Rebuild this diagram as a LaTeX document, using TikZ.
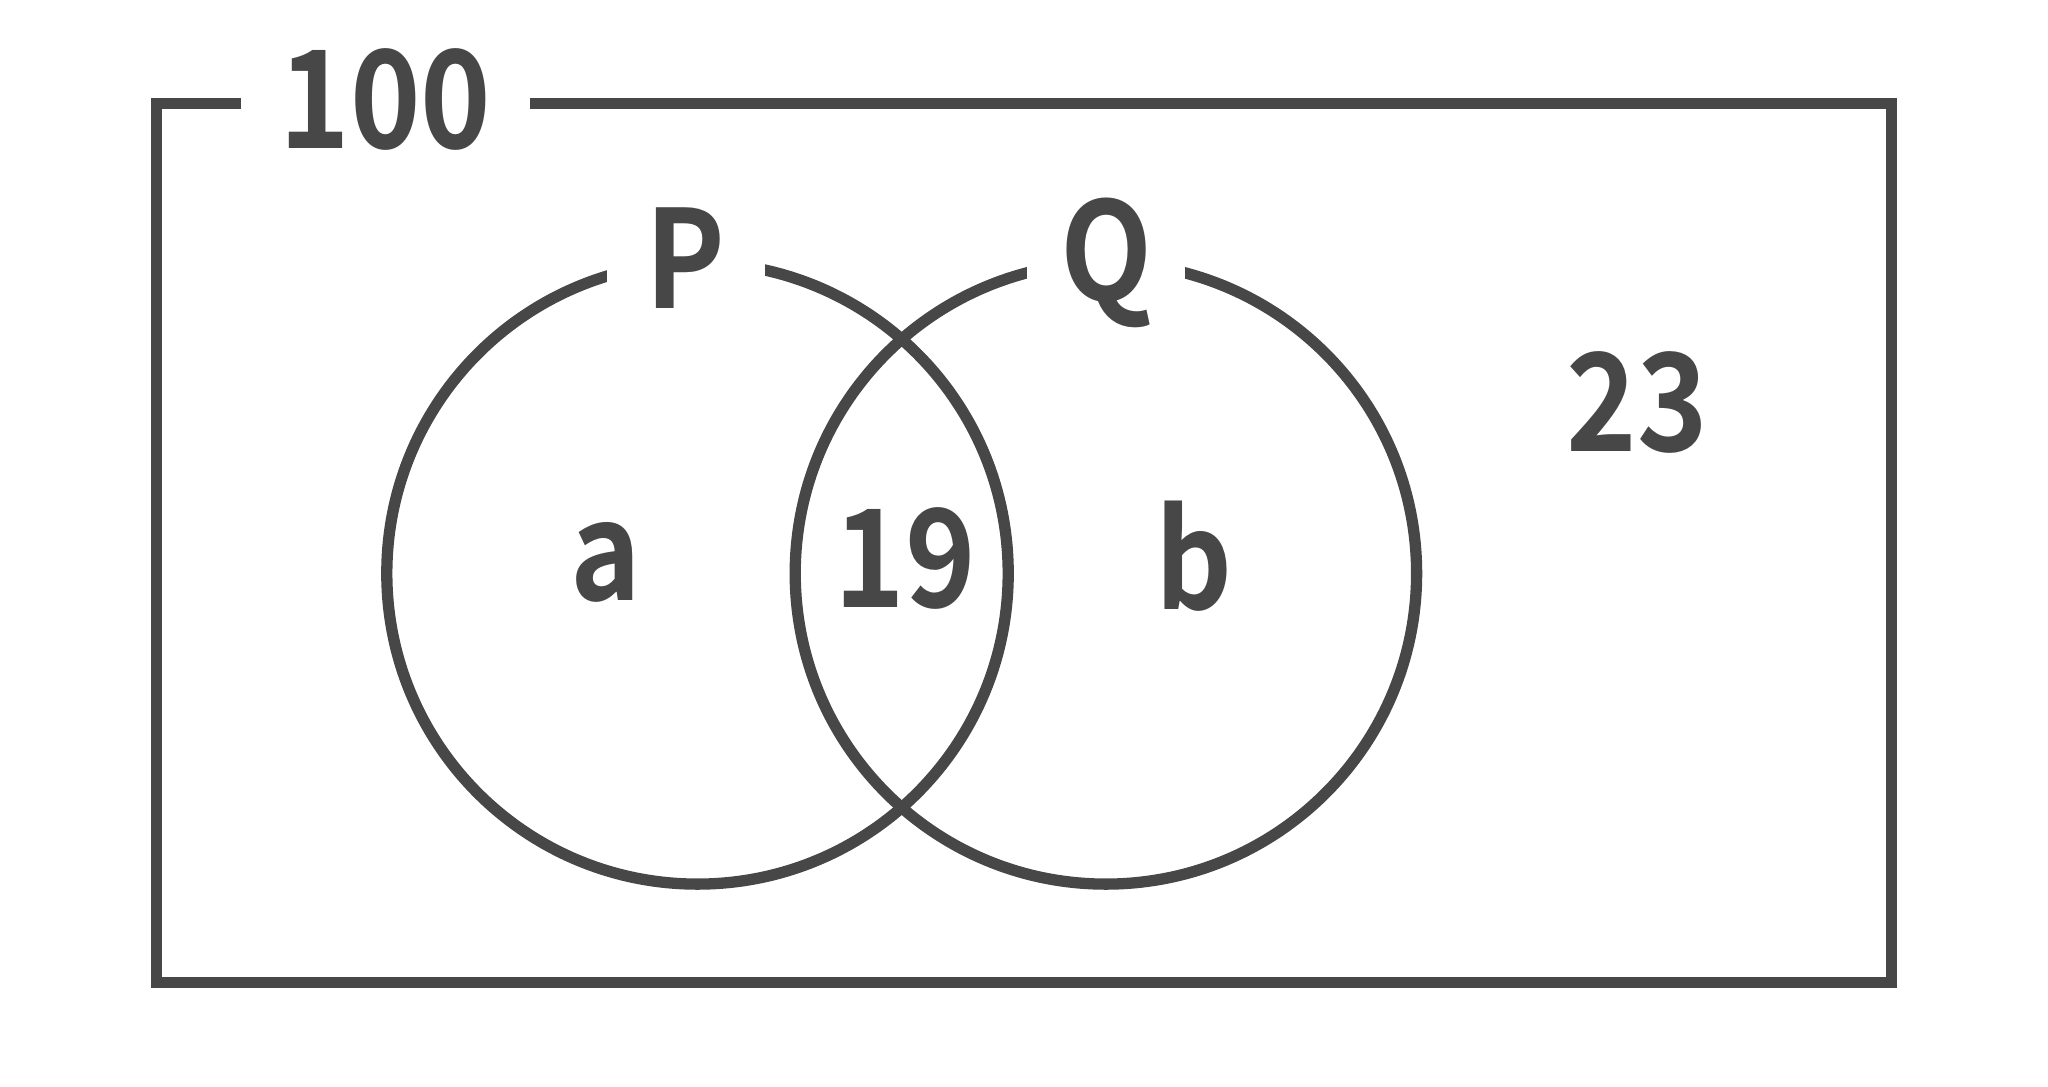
\documentclass[tikz,border=0pt]{standalone}
\usepackage{fontspec}
\newfontfamily\lab{Noto Sans CJK JP Bold}[FakeStretch=0.88]
\definecolor{ink}{RGB}{70,71,70}
\begin{document}
\begin{tikzpicture}[x=0.5pt,y=-0.5pt,
  line/.style={draw=ink, line width=5.65pt},
  lbl/.style={font=\lab\fontsize{68}{70}\selectfont, text=ink, inner sep=0pt, anchor=base},
  cut/.style={lbl, fill=white}]
\useasboundingbox (0,0) rectangle (2048,1086);
\draw[line] (156.5,103.3) rectangle (1891.5,982.3);
\draw[line] (697.5,573.4) circle[radius=155.35pt];
\draw[line] (1105.9,573.4) circle[radius=155.35pt];
\node[cut, minimum width=144.65pt] (U) at (385.4,148.5) {100};
\node[cut, minimum width=79pt] (P) at (685.6,308) {P};
\node[cut, minimum width=79pt] (Q) at (1106.4,300) {Q};
\node[lbl] (a) at (606,600) {a};
\node[lbl] (n19) at (905.5,607) {19};
\node[lbl] (b) at (1194,609) {b};
\node[lbl] (n23) at (1637,451) {23};
\end{tikzpicture}
\end{document}
